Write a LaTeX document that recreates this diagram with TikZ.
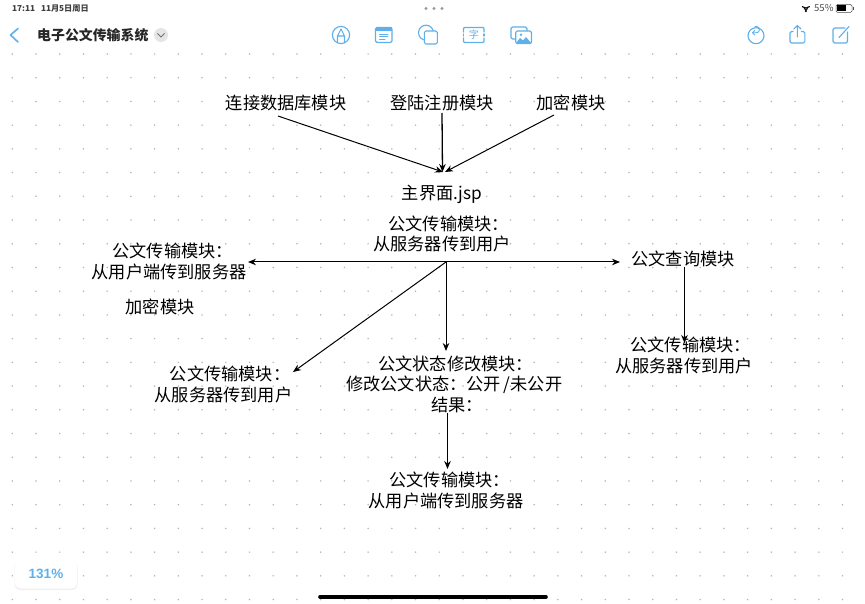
\documentclass[tikz,border=0pt]{standalone}
\usepackage{fontspec}
\setmainfont{Noto Sans CJK SC}
\newfontfamily\latinf{Liberation Sans}
\usetikzlibrary{arrows.meta}
\definecolor{blueicon}{HTML}{5FB0EA}
\definecolor{griddot}{HTML}{B5B5B5}
\newcommand{\shortcolon}{\makebox[4pt][l]{：}}
\newcommand{\widecolon}{\makebox[10pt][l]{：}}
\begin{document}
\begin{tikzpicture}[x=1pt,y=-1pt,
  lbl/.style={inner sep=0pt,align=center,font=\fontsize{17.2}{20.5}\selectfont,text=black},
  arr/.style={-{Stealth[length=8pt,width=6.5pt]},line width=1pt,black},
  icon/.style={draw=blueicon,line width=1.1pt,line join=round,line cap=round},
  ui/.style={inner sep=0pt,anchor=west}]
\useasboundingbox (0,0) rectangle (865,604);
\fill[white] (0,0) rectangle (865,604);
% dot grid
\foreach \i in {0,...,35}{\foreach \j in {0,...,23}{
  \fill[griddot] ({12.3+\i*23.72},{54+\j*23.72}) circle (0.85);}}
% status bar
\node[ui,font=\fontsize{8.2}{10}\selectfont\bfseries,text=black!75] (time) at (12,9) {17:11\hspace{6pt}11月5日周日};
\foreach \x in {426,434,442}{\fill[black!40] (\x,8.5) circle (1.6);}
\node[ui,font=\fontsize{9.5}{10}\selectfont,text=black!70] (batt) at (814,8.5) {55\%};
\draw[black!70,line width=0.5pt,rounded corners=1.5pt] (836,4.5) rectangle (852,12.5);
\fill[black] (837,5.5) rectangle (845.5,11.5);
\fill[black!70] (853,7) rectangle (854,10);
% wifi
\draw[black,line width=1.1pt] (802,6.5) arc[start angle=135,end angle=45,radius=5.5];
\draw[black,line width=1.1pt] (803.9,8.6) arc[start angle=135,end angle=45,radius=2.8];
\fill[black] (805.9,11) circle (1.2);
% title bar
\draw[icon,line width=1.6pt] (18,28.5) -- (10.5,35) -- (18,42);
\node[ui,font=\fontsize{13.9}{15}\selectfont\bfseries,text=black!85] (title) at (37,35) {电子公文传输系统};
\fill[black!10] (161,35) circle (7);
\draw[black!55,line width=0.8pt] (157.5,33.5) -- (161,37) -- (164.5,33.5);
% toolbar icons
\draw[icon] (341,35) circle (8.6);
\draw[icon] (337.5,42) -- (337.5,36) -- (341,29) -- (344.5,36) -- (344.5,42) (337.5,36) -- (344.5,36);
\draw[icon,rounded corners=1.5pt] (375.5,27.5) rectangle (392,42.5);
\fill[blueicon] (375.5,27.5) rectangle (392,31);
\draw[icon,line width=0.8pt] (379.5,34) -- (388,34) (379.5,36.5) -- (388,36.5) (379.5,39) -- (385,39);
\draw[icon] (426,32.7) circle (7.5);
\draw[icon,rounded corners=1.5pt,fill=white] (424.3,31) rectangle (437.3,44);
\draw[icon,rounded corners=1pt] (463.5,32) -- (463.5,27.5) -- (484,27.5) -- (484,32) (463.5,38) -- (463.5,42.5) -- (484,42.5) -- (484,38);
\draw[icon] (463.5,34) -- (463.5,36) (484,34) -- (484,36);
\node[font=\fontsize{10}{10}\selectfont,text=blueicon,inner sep=0pt] (zi) at (473.8,35) {字};
\draw[icon,rounded corners=1.5pt] (511,27) rectangle (527,39);
\draw[icon,rounded corners=1.5pt,fill=white] (515.7,31) rectangle (531.5,43.5);
\fill[blueicon] (515.7,43.5) -- (520,38) -- (523,40.5) -- (526,37) -- (531.5,43.5) -- cycle;
\fill[blueicon] (521,34.8) circle (1.4);
\draw[icon] (756,35.7) circle (8);
\draw[icon,line width=0.9pt] (752.5,32.8) -- (756.3,32.8) arc[start angle=90,end angle=-120,radius=3.2];
\draw[icon,line width=0.9pt] (754.8,30.5) -- (752.5,32.8) -- (754.8,35.1);
\draw[icon,rounded corners=1.5pt] (793,31.5) -- (790,31.5) -- (790,43) -- (804.8,43) -- (804.8,31.5) -- (801.5,31.5);
\draw[icon] (797.4,37) -- (797.4,25.5) (793.8,29) -- (797.4,25.5) -- (801,29);
\draw[icon,rounded corners=1.5pt] (845,28) -- (833,28) -- (833,43) -- (847.5,43) -- (847.5,32);
\draw[icon] (839,37.5) -- (849,26.5);
% zoom badge
\fill[black!6,rounded corners=6pt] (14.5,561) rectangle (77.5,590);
\fill[white,rounded corners=6pt] (15,560.5) rectangle (77,588.5);
\node[font=\latinf\bfseries\fontsize{13.5}{15}\selectfont,text=blueicon,inner sep=0pt] (zoomlbl) at (46,574) {131\%};
% home indicator
\draw[black,line width=3.6pt,line cap=round] (320,597) -- (546,597);
% labels
\node[lbl] (db) at (286,103) {连接数据库模块};
\node[lbl] (login) at (442,103) {登陆注册模块};
\node[lbl] (enc) at (571,103) {加密模块};
\node[lbl] (main) at (442,194.5) {主界面.jsp};
\node[lbl] (s2u) at (442,234) {公文传输模块\shortcolon\\从服务器传到用户};
\node[lbl] (u2s) at (169,261.5) {公文传输模块\widecolon\\从用户端传到服务器};
\node[lbl] (enc2) at (160,307) {加密模块};
\node[lbl] (query) at (683,259) {公文查询模块};
\node[lbl] (s2u2) at (684,355.5) {公文传输模块\shortcolon\\从服务器传到用户};
\node[lbl] (s2u3) at (223.5,384.5) {公文传输模块\shortcolon\\从服务器传到用户};
\node[lbl,align=left,anchor=north west] (state) at (346,355.5) {\hspace*{32pt}公文状态修改模块：\\修改公文状态：公开\hspace{3pt}/未公开\\\hspace*{85pt}结果：};
\node[lbl] (u2s2) at (446,490.5) {公文传输模块\widecolon\\从用户端传到服务器};
% connector ends
\coordinate (mainin) at (443,172);
\coordinate (hub) at (446,262);
\coordinate (u2send) at (248,262);
\coordinate (qend) at (620,262);
\coordinate (dbs) at (278,116);
\coordinate (logins) at (442,113);
\coordinate (encs) at (554,115);
\coordinate (q1) at (684.5,267);
\coordinate (q2) at (684.5,343);
\coordinate (dl) at (293,372);
\coordinate (dm) at (446,351);
\coordinate (st1) at (447.5,413);
\coordinate (st2) at (447.5,469);
% connectors
\draw[arr] (dbs) -- (mainin);
\draw[arr,line width=1.3pt] (logins) -- ([xshift=-0.5pt]mainin);
\draw[arr] (encs) -- ([xshift=2pt]mainin);
\draw[arr] (hub) -- (u2send);
\draw[arr] (hub) -- (qend);
\draw[arr] (hub) -- (dl);
\draw[arr] (hub) -- (dm);
\draw[arr,line width=1.3pt] (q1) -- (q2);
\draw[arr] (st1) -- (st2);
\end{tikzpicture}
\end{document}
